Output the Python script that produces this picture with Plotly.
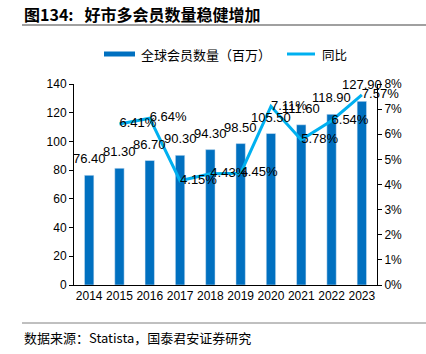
import plotly.graph_objects as go

years = [2014, 2015, 2016, 2017, 2018, 2019, 2020, 2021, 2022, 2023]
members = [76.4, 81.3, 86.7, 90.3, 94.3, 98.5, 105.5, 111.6, 118.9, 127.9]
growth_years = [2015, 2016, 2017, 2018, 2019, 2020, 2021, 2022, 2023]
growth = [0.0641, 0.0664, 0.0415, 0.0443, 0.0445, 0.0711, 0.0578, 0.0654, 0.0757]

title_text = "图134:\u00a0\u00a0\u00a0好市多会员数量稳健增加"
source_text = "数据来源：Statista，国泰君安证券研究"
bar_name = "全球会员数量（百万）"
line_name = "同比"

BAR_C = "#0070C0"
LINE_C = "#00B0F0"
W, H = 426, 354
L, R, T, B = 74, 49, 84, 69
PW, PH = W - L - R, H - T - B

def px(x):
    return (x - L) / PW

def py(y):
    return (H - B - y) / PH

NUM_FONT = "Liberation Sans Narrow, Liberation Sans, Arial, sans-serif"
CJK = "Noto Sans CJK SC, sans-serif"

fig = go.Figure()
fig.add_trace(go.Bar(x=years, y=members, name=bar_name, marker_color=BAR_C,
                     width=0.31, showlegend=False))
fig.add_trace(go.Scatter(x=growth_years, y=growth, name=line_name, yaxis="y2",
                         mode="lines+text", line=dict(color=LINE_C, width=3),
                         text=[f"{v*100:.2f}%" for v in growth],
                         textposition="middle right",
                         textfont=dict(family="Liberation Sans, Arial", size=13, color="#000"),
                         showlegend=False, cliponaxis=False))

annotations = []
for yr, v in zip(years, members):
    annotations.append(dict(x=yr, y=v, xref="x", yref="y", text=f"{v:.2f}",
                            showarrow=False, yanchor="bottom", yshift=7,
                            font=dict(family="Liberation Sans, Arial", size=13, color="#000")))

# title, source
annotations.append(dict(x=px(22), y=py(14), xref="paper", yref="paper", text="<b>" + title_text + "</b>",
                        showarrow=False, xanchor="left", yanchor="middle",
                        font=dict(family=CJK, size=16, color="#000")))
annotations.append(dict(x=px(22), y=py(337), xref="paper", yref="paper", text=source_text,
                        showarrow=False, xanchor="left", yanchor="middle",
                        font=dict(family=CJK, size=13, color="#000")))
# manual legend
annotations.append(dict(x=px(139), y=py(54), xref="paper", yref="paper", text=bar_name,
                        showarrow=False, xanchor="left", yanchor="middle",
                        font=dict(family=CJK, size=13, color="#000")))
annotations.append(dict(x=px(320), y=py(54), xref="paper", yref="paper", text=line_name,
                        showarrow=False, xanchor="left", yanchor="middle",
                        font=dict(family=CJK, size=12.5, color="#000")))

shapes = [
    dict(type="line", xref="paper", yref="paper", x0=px(22), x1=px(426), y0=py(25), y1=py(25),
         line=dict(color="#808080", width=1.5)),
    dict(type="line", xref="paper", yref="paper", x0=px(22), x1=px(426), y0=py(323), y1=py(323),
         line=dict(color="#808080", width=1)),
    dict(type="rect", xref="paper", yref="paper", x0=px(104), x1=px(135), y0=py(56.5), y1=py(51.5),
         fillcolor=BAR_C, line=dict(width=0)),
    dict(type="line", xref="paper", yref="paper", x0=px(287), x1=px(315), y0=py(54), y1=py(54),
         line=dict(color=LINE_C, width=3)),
]

fig.update_layout(
    width=W, height=H,
    margin=dict(l=L, r=R, t=T, b=B),
    paper_bgcolor="white", plot_bgcolor="white",
    showlegend=False,
    annotations=annotations, shapes=shapes,
    xaxis=dict(type="linear", range=[years[0] - 0.5, years[-1] + 0.5], tickmode="linear",
               tick0=years[0], dtick=1,
               showline=True, linecolor="#000", linewidth=1, ticks="",
               tickfont=dict(family=NUM_FONT, size=12, color="#000"), showgrid=False, zeroline=False),
    yaxis=dict(range=[0, 140], dtick=20, showline=True, linecolor="#000", linewidth=1,
               ticks="outside", ticklen=4, tickcolor="#000", showgrid=False, zeroline=False,
               tickfont=dict(family=NUM_FONT, size=12, color="#000")),
    yaxis2=dict(range=[0, 0.08], dtick=0.01, tickformat=".0%", overlaying="y", side="right",
                showline=True, linecolor="#000", linewidth=1, ticks="outside", ticklen=4,
                tickcolor="#000", showgrid=False, zeroline=False,
                tickfont=dict(family=NUM_FONT, size=12, color="#000")),
)

fig.write_html("out.html")
